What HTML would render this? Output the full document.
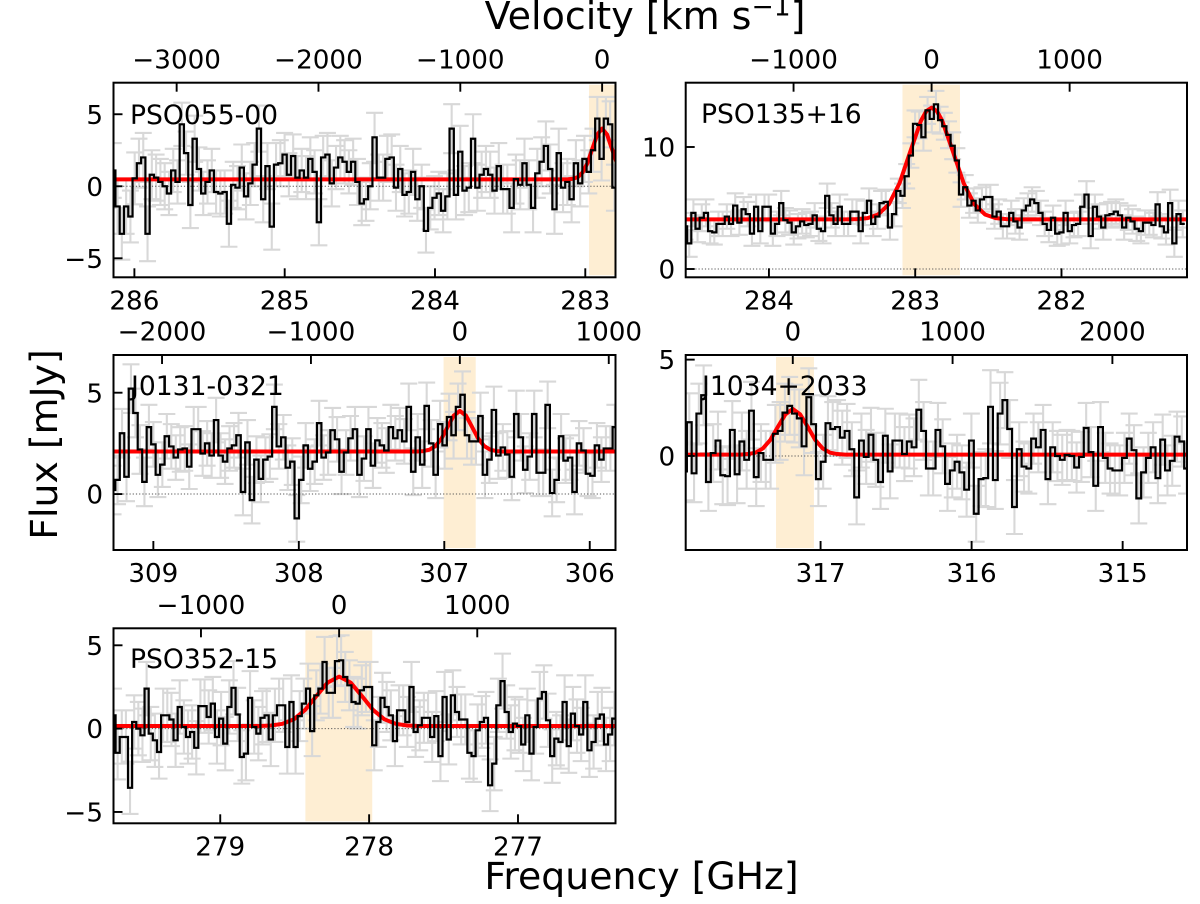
<!DOCTYPE html>
<html lang="en">
<head>
<meta charset="utf-8">
<title>Spectra of five quasars</title>
<style>
html,body{margin:0;padding:0;background:#fff;width:1200px;height:904px;overflow:hidden}
svg{display:block}
text{font-family:"DejaVu Sans","Liberation Sans",sans-serif;fill:#000}
</style>
</head>
<body>
<svg id="figure" xmlns="http://www.w3.org/2000/svg" width="1200" height="904" viewBox="0 0 1200 904">
  <text x="645" y="29" font-size="38" text-anchor="middle">Velocity [km s<tspan font-size="26.5" dy="-13.5">−1</tspan><tspan dy="13.5">]</tspan></text>
  <text x="641.5" y="889" font-size="37.8" text-anchor="middle">Frequency [GHz]</text>
  <text transform="translate(57 444.5) rotate(-90)" font-size="37.8" text-anchor="middle">Flux [mJy]</text>
</svg>
<script>
const p1Values=[1.1,
-1.4,-3.3,-1.4,-2.1,0.55,1.6,2.0,-3.3,0.8,0.6,
0.3,0,-0.5,1.1,0.3,4.3,2.3,-1.3,3.3,1.2,
-0.5,0.3,1.1,-0.4,-0.5,-0.4,-2.6,0.1,-0.1,1.3,
-0.7,0.2,1.5,4.0,-0.9,1.4,-2.8,1.5,1.6,2.2,
0.8,2.1,0.6,1.1,0.6,1.9,1.0,-2.5,2.0,2.2,
0.2,1.3,2.0,1.7,1.0,1.7,0.3,-1.2,-0.9,0,
3.4,0.6,0.6,1.9,2.0,-0.1,1.2,-0.6,-0.4,1.0,
-0.9,0,-3.1,-1.5,-0.8,-0.5,-1.7,-0.7,4.0,-0.6,
2.4,-0.3,-0.1,3.3,-0.1,0.8,1.2,0.8,-0.3,1.4,
-0.2,-0.2,-1.5,0.5,0.1,1.6,0.1,-1.5,0.9,1.7,
2.8,1.2,-1.6,2.3,-0.1,0.3,-0.9,1.6,0.2,1.9,
1.0,2.5,4.7,1.9,4.7,4.3,-0.1];
const p1Errors=[1.9,
1.9,1.8,1.9,1.8,1.8,1.7,1.7,1.9,1.7,1.6,
1.6,1.6,1.5,1.5,1.5,1.5,1.5,1.6,1.6,1.5,
1.5,1.5,1.5,1.5,1.6,1.5,1.6,1.6,1.5,1.6,
1.6,1.5,1.5,1.6,1.6,1.6,1.6,1.5,1.6,1.5,
1.5,1.5,1.5,1.5,1.5,1.5,1.5,1.6,1.5,1.5,
1.6,1.5,1.5,1.5,1.5,1.6,1.6,1.5,1.5,1.6,
1.7,1.6,1.6,1.6,1.6,1.6,1.6,1.5,1.5,1.6,
1.5,1.5,1.5,1.5,1.5,1.5,1.5,1.6,1.7,1.7,
1.8,1.7,1.7,1.7,1.6,1.6,1.6,1.6,1.6,1.6,
1.7,1.7,1.7,1.7,1.7,1.7,1.7,1.7,1.7,1.7,
1.7,1.7,1.7,1.7,1.7,1.6,1.6,1.6,1.6,1.6,
1.5,1.5,1.5,1.5,1.5,1.6,1.6];
const p1ModelFreq=[286.14,283.148,283.115,283.083,283.05,283.018,282.985,282.953,282.92,282.888,282.855,282.823,282.79];
const p1ModelFlux=[0.48,0.48,0.49,0.52,0.63,0.96,1.62,2.61,3.59,4.0,3.59,2.61,1.62];
const p1FreqTicks=[286,285,284,283];
const p1VelTicks=[-3000,-2000,-1000,0];
const p1FluxTicks=[5,0,-5];

const p2Values=[3.5,
2.1,4.6,3.3,4.2,4.6,3.1,3.0,3.7,3.7,4.3,
3.7,5.2,3.8,4.9,4.5,2.9,5.1,3.1,5.1,5.1,
2.9,3.7,5.4,4.0,3.8,3.0,3.5,3.9,3.6,3.7,
4.4,3.3,3.1,6.0,4.4,3.7,5.1,3.7,3.7,4.7,
4.7,3.1,4.6,5.6,3.7,4.3,5.4,5.5,3.4,4.5,
6.4,6.0,7.6,9.3,11.9,11.8,10.8,13.0,12.3,13.5,
12.2,11.7,11.0,10.1,8.9,6.1,6.7,5.2,5.6,4.8,
5.7,5.9,5.9,4.3,4.7,3.5,3.5,4.6,3.9,3.4,
4.8,5.2,5.7,5.4,4.6,3.7,3.2,4.2,2.9,3.0,
4.6,3.1,3.6,3.7,5.1,6.1,2.7,5.1,4.3,3.4,
4.4,4.5,4.7,4.4,3.4,4.2,3.9,3.3,3.1,3.8,
3.8,3.6,5.3,3.5,3.0,5.4,2.1,4.5,3.7];
const p2Errors=[1.1,
1.1,1.1,1.1,1.1,1.1,1.0,1.0,1.0,1.0,1.0,
1.0,1.0,1.0,1.0,1.0,1.0,1.0,1.0,1.0,1.0,
1.0,1.0,1.0,1.0,1.0,1.0,1.0,1.0,1.0,1.0,
1.0,1.0,1.0,1.0,1.0,1.0,1.0,1.0,1.0,1.0,
1.0,1.0,1.0,1.0,1.0,1.0,1.0,1.0,1.0,1.0,
1.0,1.0,1.0,1.0,1.1,1.1,1.1,1.1,1.1,1.1,
1.1,1.1,1.1,1.1,1.0,1.0,1.0,1.0,1.0,1.0,
1.0,1.0,1.0,1.0,1.0,1.0,1.0,1.0,1.0,1.0,
1.0,1.0,1.0,1.0,1.0,1.0,1.0,1.0,1.0,1.0,
1.0,1.0,1.0,1.0,1.0,1.1,1.0,1.0,1.0,1.0,
1.0,1.0,1.0,1.0,1.0,1.0,1.0,1.0,1.0,1.0,
1.0,1.0,1.0,1.0,1.0,1.1,1.1,1.1,1.1];
const p2ModelFreq=[284.57,283.472,283.399,283.326,283.253,283.18,283.107,283.034,282.961,282.9245,282.888,282.8515,282.815,282.742,282.669,282.596,282.523,282.45,282.377,282.304,281.14];
const p2ModelFlux=[4.07,4.07,4.09,4.17,4.47,5.31,7.04,9.62,12.14,12.94,13.22,12.94,12.14,9.62,7.04,5.31,4.47,4.17,4.09,4.07,4.07];
const p2FreqTicks=[284,283,282];
const p2VelTicks=[-1000,0,1000];
const p2FluxTicks=[10,0];

const p3Values=[0.2,
0.7,3.0,0.85,5.2,4.0,2.2,0.6,3.3,2.45,0.95,
1.45,2.85,2.35,1.8,2.2,2.25,1.35,3.2,3.2,2.0,
2.5,1.9,3.65,1.9,1.6,2.25,2.4,2.9,0.1,2.55,
-0.3,1.7,0.75,1.7,1.85,4.3,2.35,2.8,1.3,1.6,
-1.2,0.7,2.4,1.25,1.6,3.5,1.8,2.05,3.15,2.7,
1.1,2.05,2.75,3.2,0.95,1.75,3.2,1.4,2.65,2.4,
2.15,3.3,2.75,3.15,2.6,4.3,1.1,2.8,1.45,4.35,
2.5,0.95,3.45,2.4,3.8,2.9,4.3,4.9,2.9,2.6,
2.6,3.85,0.95,1.7,4.15,1.9,2.3,1.95,0.85,3.95,
2.8,1.2,1.85,3.95,1.05,1.05,4.4,0.05,0.7,2.85,
1.65,1.8,0.1,2.5,2.15,1.0,0.9,2.4,1.7,2.25,
2.25,3.3];
const p3Errors=[1.2,
1.2,1.2,1.2,1.2,1.2,1.2,1.2,1.1,1.1,1.1,
1.1,1.1,1.1,1.1,1.1,1.1,1.1,1.1,1.1,1.1,
1.1,1.1,1.1,1.1,1.1,1.1,1.1,1.1,1.15,1.1,
1.15,1.15,1.15,1.1,1.1,1.1,1.1,1.1,1.1,1.15,
1.15,1.15,1.1,1.1,1.1,1.1,1.1,1.1,1.1,1.1,
1.1,1.1,1.1,1.1,1.1,1.1,1.1,1.1,1.1,1.1,
1.1,1.1,1.1,1.1,1.1,1.15,1.15,1.15,1.15,1.15,
1.15,1.15,1.15,1.15,1.15,1.15,1.15,1.15,1.15,1.15,
1.15,1.15,1.15,1.15,1.15,1.15,1.15,1.15,1.15,1.15,
1.15,1.15,1.15,1.15,1.15,1.15,1.15,1.15,1.1,1.1,
1.1,1.1,1.1,1.1,1.1,1.1,1.1,1.1,1.1,1.1,
1.1,1.1];
const p3ModelFreq=[309.28,307.186,307.144,307.102,307.06,307.018,306.977,306.935,306.893,306.851,306.809,306.768,306.726,306.684,306.642,306.6,305.82];
const p3ModelFlux=[2.1,2.1,2.12,2.19,2.37,2.75,3.31,3.87,4.1,3.87,3.31,2.75,2.37,2.19,2.12,2.1,2.1];
const p3FreqTicks=[309,308,307,306];
const p3VelTicks=[-2000,-1000,0,1000];
const p3FluxTicks=[5,0];

const p4Values=[-0.8,
1.75,-0.9,2.2,3.15,-1.35,0.15,0.8,-1.0,-1.05,1.35,
-0.95,0.75,-0.2,2.35,-1.1,0.15,-0.2,-0.2,1.15,1.3,
2.25,2.6,2.2,1.95,0.5,3.05,1.65,-1.2,-0.3,1.7,
1.4,1.5,0.95,1.3,0.35,-2.15,0.8,-0.05,1.1,-0.2,
-1.35,1.05,-0.8,0.8,0.8,0.1,0.75,0.45,2.4,1.3,
-0.65,-0.65,1.35,0.5,-1.45,-0.75,-0.3,-0.85,-1.75,0.8,
-3.0,-1.2,-1.15,2.55,-1.25,2.2,2.9,1.4,-2.65,0.35,
-0.55,-0.65,0.9,0.45,1.35,-1.2,0.45,0,-0.2,0.05,
0,-0.6,-0.05,1.45,0.2,-1.55,1.5,-0.1,-0.65,-0.75,
-0.75,-0.1,0.9,0.3,-2.2,-0.85,-0.1,0.45,-1.15,0.85,
-0.75,-0.25,1.0,0.75,-0.65];
const p4Errors=[1.5,
1.5,1.5,1.55,1.55,1.5,1.5,1.5,1.5,1.5,1.5,
1.5,1.5,1.5,1.5,1.5,1.5,1.5,1.5,1.5,1.5,
1.5,1.5,1.5,1.5,1.5,1.5,1.5,1.4,1.4,1.4,
1.4,1.4,1.4,1.4,1.4,1.4,1.4,1.4,1.4,1.4,
1.4,1.4,1.4,1.4,1.4,1.4,1.4,1.5,1.55,1.5,
1.4,1.4,1.4,1.4,1.4,1.4,1.4,1.4,1.4,1.4,
1.45,1.4,1.5,1.9,1.5,1.6,1.45,1.5,1.4,1.4,
1.3,1.3,1.3,1.3,1.3,1.3,1.3,1.3,1.3,1.3,
1.3,1.3,1.3,1.3,1.3,1.3,1.3,1.3,1.3,1.3,
1.3,1.3,1.3,1.3,1.3,1.3,1.3,1.3,1.3,1.3,
1.3,1.3,1.3,1.3,1.3];
const p4ModelFreq=[317.9,317.53,317.48,317.431,317.382,317.332,317.283,317.233,317.184,317.135,317.085,317.036,316.986,316.937,316.888,316.838,314.57];
const p4ModelFlux=[0.07,0.07,0.1,0.17,0.39,0.84,1.51,2.16,2.44,2.16,1.51,0.84,0.39,0.17,0.1,0.07,0.07];
const p4FreqTicks=[317,316,315];
const p4VelTicks=[0,1000,2000];
const p4FluxTicks=[5,0];

const p5Values=[0.8,
-1.45,-0.5,-0.5,-3.55,0.4,0,-0.4,2.4,-0.3,-0.7,
-1.4,0.8,0.8,0.55,-0.7,1.3,0.1,-0.5,-0.2,-1.15,
1.35,1.35,0.7,1.5,-0.5,0.6,-0.9,1.3,2.45,0.85,
-1.7,-1.5,1.85,0.1,-0.3,0.65,0.8,-0.65,0.8,1.4,
1.4,-1.1,1.6,-1.1,0.75,1.5,2.4,-0.15,2.0,2.4,
4.0,2.15,2.15,4.05,4.1,3.1,2.6,1.6,1.5,2.3,
2.5,2.5,-1.0,0.4,1.85,1.3,0.8,-0.75,1.1,1.1,
0.4,2.5,-0.2,0.2,0.65,0.65,-0.5,0.75,-1.65,1.9,
-0.65,2.0,1.0,0.55,0.55,-1.45,-1.65,-0.1,0.4,0.65,
-3.4,-2.1,1.4,2.85,1.0,-0.2,0.3,0.15,-0.95,0.8,
-1.5,0.1,1.8,2.2,0.5,-1.65,-0.6,-0.8,1.6,-1.05,
0.9,0.15,-0.35,1.6,-1.3,-0.8,0.6,0.85,-0.95,-0.35,
0.6];
const p5Errors=[1.6,
1.6,1.6,1.6,1.57,1.6,1.6,1.6,1.6,1.6,1.6,
1.6,1.6,1.6,1.6,1.6,1.6,1.6,1.6,1.6,1.6,
1.6,1.6,1.6,1.6,1.6,1.6,1.6,1.6,1.6,1.6,
1.6,1.6,1.6,1.6,1.6,1.6,1.6,1.6,1.6,1.6,
1.6,1.6,1.6,1.6,1.5,1.5,1.5,1.5,1.5,1.5,
1.5,1.5,1.5,1.5,1.5,1.5,1.5,1.5,1.5,1.5,
1.5,1.5,1.5,1.5,1.5,1.5,1.5,1.5,1.5,1.5,
1.5,1.5,1.5,1.5,1.5,1.5,1.5,1.5,1.5,1.5,
1.5,1.5,1.5,1.5,1.5,1.55,1.55,1.55,1.55,1.55,
1.55,1.6,1.6,1.65,1.6,1.6,1.6,1.6,1.6,1.6,
1.6,1.6,1.6,1.6,1.6,1.6,1.6,1.6,1.6,1.6,
1.6,1.6,1.6,1.6,1.6,1.6,1.6,1.6,1.6,1.6,
1.6];
const p5ModelFreq=[279.72,278.734,278.658,278.582,278.506,278.43,278.354,278.278,278.2015,278.125,278.049,277.973,277.897,277.821,277.745,277.669,276.34];
const p5ModelFlux=[0.16,0.16,0.19,0.29,0.56,1.12,1.96,2.77,3.12,2.77,1.96,1.12,0.56,0.29,0.19,0.16,0.16];
const p5FreqTicks=[279,278,277];
const p5VelTicks=[-1000,0,1000];
const p5FluxTicks=[5,0,-5];

const SPEED_OF_LIGHT=299792;
const SVG_NS='http://www.w3.org/2000/svg';
const figure=document.getElementById('figure');

const panels=[
 {slug:'pso055-00',label:'PSO055-00',box:[113.5,82.7,615.5,277.3],freqLim:[286.139,282.799],fluxLim:[7.19,-6.32],lineFreq:282.888,firstFreq:286.1405,chanWidth:0.0285,shade:[282.975,282.795],values:p1Values,errors:p1Errors,modelFreq:p1ModelFreq,modelFlux:p1ModelFlux,freqTicks:p1FreqTicks,velTicks:p1VelTicks,fluxTicks:p1FluxTicks,labelPos:[130,124]},
 {slug:'pso135+16',label:'PSO135+16',box:[685.7,82.7,1187,277.3],freqLim:[284.569,281.142],fluxLim:[15.27,-0.68],lineFreq:282.888,firstFreq:284.5736,chanWidth:0.02859,shade:[283.087,282.694],values:p2Values,errors:p2Errors,modelFreq:p2ModelFreq,modelFlux:p2ModelFlux,freqTicks:p2FreqTicks,velTicks:p2VelTicks,fluxTicks:p2FluxTicks,labelPos:[701,123]},
 {slug:'j0131-0321',label:'J0131-0321',box:[113.5,355,615.5,550],freqLim:[309.274,305.823],fluxLim:[6.86,-2.76],lineFreq:306.893,firstFreq:309.277,chanWidth:0.0308,shade:[307.005,306.784],values:p3Values,errors:p3Errors,modelFreq:p3ModelFreq,modelFlux:p3ModelFlux,freqTicks:p3FreqTicks,velTicks:p3VelTicks,fluxTicks:p3FluxTicks,labelPos:[131,395]},
 {slug:'j1034+2033',label:'J1034+2033',box:[685.7,355,1187,550],freqLim:[317.893,314.574],fluxLim:[5.24,-4.88],lineFreq:317.184,firstFreq:317.901,chanWidth:0.03166,shade:[317.295,317.044],values:p4Values,errors:p4Errors,modelFreq:p4ModelFreq,modelFlux:p4ModelFlux,freqTicks:p4FreqTicks,velTicks:p4VelTicks,fluxTicks:p4FluxTicks,labelPos:[702,395]},
 {slug:'pso352-15',label:'PSO352-15',box:[113.5,628.3,615.5,823.3],freqLim:[279.717,276.345],fluxLim:[6.02,-5.68],lineFreq:278.2015,firstFreq:279.717,chanWidth:0.0278,shade:[278.428,277.979],values:p5Values,errors:p5Errors,modelFreq:p5ModelFreq,modelFlux:p5ModelFlux,freqTicks:p5FreqTicks,velTicks:p5VelTicks,fluxTicks:p5FluxTicks,labelPos:[130,668]}
];

function svgEl(tag,attrs,parent){
  const el=document.createElementNS(SVG_NS,tag);
  for(const k in attrs){el.setAttribute(k,attrs[k]);}
  parent.appendChild(el);
  return el;
}
function fmt(n){return String(n).replace('-','\u2212');}

panels.forEach(function(p,idx){
  const L=p.box[0],T=p.box[1],R=p.box[2],B=p.box[3];
  const xScale=function(f){return L+(f-p.freqLim[0])/(p.freqLim[1]-p.freqLim[0])*(R-L);};
  const yScale=function(v){return T+(v-p.fluxLim[0])/(p.fluxLim[1]-p.fluxLim[0])*(B-T);};
  const velScale=function(v){return xScale(p.lineFreq*(1-v/SPEED_OF_LIGHT));};
  const chanFreq=function(i){return p.firstFreq-i*p.chanWidth;};

  const group=svgEl('g',{},figure);
  
  

  const clipId='plot-clip-'+idx;
  const defs=svgEl('defs',{},group);
  const clip=svgEl('clipPath',{id:clipId},defs);
  svgEl('rect',{x:L,y:T,width:R-L,height:B-T},clip);

  const plot=svgEl('g',{'clip-path':'url(#'+clipId+')'},group);
  
  

  const x0=xScale(p.shade[0]),x1=xScale(p.shade[1]);
  const shade=svgEl('rect',{x:x0,y:T+2,width:x1-x0,height:B-T-4,fill:'#feeed3'},plot);
  
  

  const errGroup=svgEl('g',{stroke:'#d8d8d8','stroke-width':2.1,fill:'none'},plot);
  
  
  let errPath='';
  p.values.forEach(function(v,i){
    const e=p.errors[i];
    const x=xScale(chanFreq(i)),yHi=yScale(v+e),yLo=yScale(v-e);
    errPath+='M'+x.toFixed(2)+' '+yLo.toFixed(2)+'V'+yHi.toFixed(2);
    errPath+='M'+(x-8.5).toFixed(2)+' '+yLo.toFixed(2)+'H'+(x+8.5).toFixed(2);
    errPath+='M'+(x-8.5).toFixed(2)+' '+yHi.toFixed(2)+'H'+(x+8.5).toFixed(2);
  });
  svgEl('path',{d:errPath},errGroup);

  const zero=svgEl('line',{x1:L,x2:R,y1:yScale(0),y2:yScale(0),stroke:'#555','stroke-width':1,'stroke-dasharray':'1.2 2'},plot);
  
  

  const modelPts=p.modelFreq.map(function(f,i){return xScale(f).toFixed(2)+','+yScale(p.modelFlux[i]).toFixed(2);}).join(' ');
  const model=svgEl('polyline',{points:modelPts,fill:'none',stroke:'#ff0000','stroke-width':4,'stroke-linejoin':'round'},plot);
  
  

  let stepD='';
  p.values.forEach(function(v,i){
    const xa=xScale(chanFreq(i)+p.chanWidth/2),xb=xScale(chanFreq(i)-p.chanWidth/2),y=yScale(v);
    stepD+=(i===0?'M':'L')+xa.toFixed(2)+' '+y.toFixed(2)+'L'+xb.toFixed(2)+' '+y.toFixed(2);
  });
  const steps=svgEl('path',{d:stepD,fill:'none',stroke:'#000','stroke-width':2.2,'stroke-linejoin':'miter'},plot);
  
  

  const name=svgEl('text',{x:p.labelPos[0],y:p.labelPos[1],'font-size':26.6},group);
  name.textContent=p.label;
  
  

  const tickAttr={stroke:'#000','stroke-width':1.9};
  p.freqTicks.forEach(function(t){
    const x=xScale(t);
    const tick=svgEl('line',Object.assign({x1:x,x2:x,y1:B,y2:B-9},tickAttr),group);
    
    
    const lab=svgEl('text',{x:x,y:B+32,'font-size':26.2,'text-anchor':'middle'},group);
    lab.textContent=fmt(t);
    
    
  });
  p.velTicks.forEach(function(t){
    const x=velScale(t);
    const tick=svgEl('line',Object.assign({x1:x,x2:x,y1:T,y2:T+9},tickAttr),group);
    
    
    const lab=svgEl('text',{x:x,y:T-14.4,'font-size':26.2,'text-anchor':'middle'},group);
    lab.textContent=fmt(t);
    
    
  });
  p.fluxTicks.forEach(function(t){
    const y=yScale(t);
    const tick=svgEl('line',Object.assign({x1:L,x2:L+9,y1:y,y2:y},tickAttr),group);
    
    
    const lab=svgEl('text',{x:L-10.5,y:y+9.6,'font-size':26.2,'text-anchor':'end'},group);
    lab.textContent=fmt(t);
    
    
  });

  const frame=svgEl('rect',{x:L,y:T,width:R-L,height:B-T,fill:'none',stroke:'#000','stroke-width':2},group);
  
  
});
</script>
</body>
</html>
